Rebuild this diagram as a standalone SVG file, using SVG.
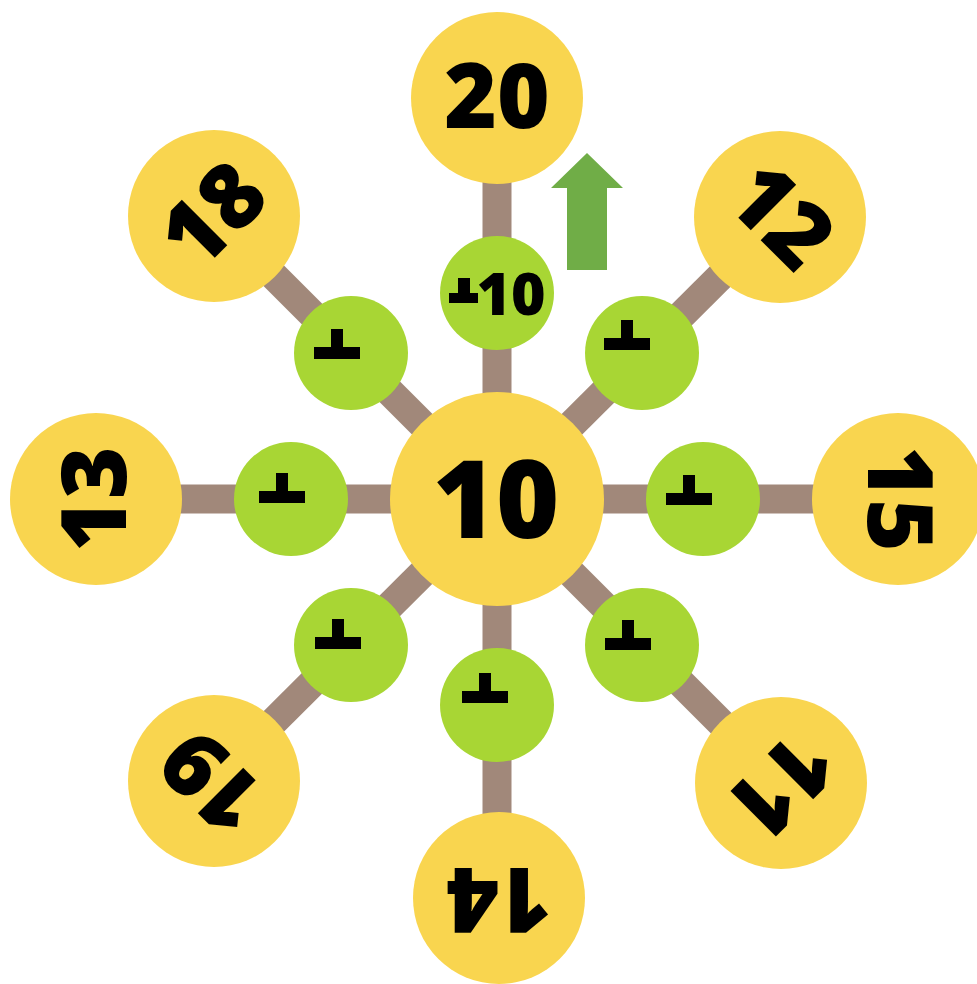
<svg xmlns="http://www.w3.org/2000/svg" xmlns:xlink="http://www.w3.org/1999/xlink" width="977" height="984" viewBox="0 0 977 984">
  <style>
    .link { stroke: #a1887a; stroke-width: 29; stroke-linecap: butt; }
    .outer { fill: #f9d54f; }
    .hub { fill: #f9d54f; }
    .sub { fill: #a8d634; }
    .num { font-family: "Open Sans", "Liberation Sans", sans-serif; font-weight: 800; fill: #000; text-anchor: middle; }
    .big { font-size: 90px; }
    .mark { fill: #000; }
  </style>
  <defs>
    <g id="tee">
      <rect x="-37" y="-6" width="46" height="12"/>
      <rect x="-20" y="-24" width="12" height="19"/>
    </g>
  </defs>
  <rect width="977" height="984" fill="#ffffff"/>
  <g id="connectors">
    <line class="link" x1="497" y1="499" x2="497" y2="98"/>
    <line class="link" x1="497" y1="499" x2="497" y2="898"/>
    <line class="link" x1="497" y1="499" x2="96" y2="499"/>
    <line class="link" x1="497" y1="499" x2="898" y2="499"/>
    <line class="link" x1="497" y1="499" x2="214" y2="216"/>
    <line class="link" x1="497" y1="499" x2="780" y2="217"/>
    <line class="link" x1="497" y1="499" x2="214" y2="781"/>
    <line class="link" x1="497" y1="499" x2="781" y2="783"/>
  </g>
  <g id="arrow">
    <polygon points="587,153 623,188 607,188 607,270 567,270 567,188 551,188" fill="#70ad47"/>
  </g>
  <g id="n20">
    <circle class="outer" cx="497" cy="98" r="86"/>
    <text class="num big" x="497" y="128">20</text>
  </g>
  <g id="n18">
    <circle class="outer" cx="214" cy="216" r="86"/>
    <text class="num big" x="214" y="246" transform="rotate(-45 214 216)">18</text>
  </g>
  <g id="n12">
    <circle class="outer" cx="780" cy="217" r="86"/>
    <text class="num big" x="780" y="247" transform="rotate(45 780 217)">12</text>
  </g>
  <g id="n13">
    <circle class="outer" cx="96" cy="499" r="86"/>
    <text class="num big" x="96" y="529" transform="rotate(-90 96 499)">13</text>
  </g>
  <g id="n15">
    <circle class="outer" cx="898" cy="499" r="86"/>
    <text class="num big" x="898" y="529" transform="rotate(90 898 499)">15</text>
  </g>
  <g id="n19">
    <circle class="outer" cx="214" cy="781" r="86"/>
    <text class="num big" x="214" y="811" transform="rotate(-135 214 781)">19</text>
  </g>
  <g id="n11">
    <circle class="outer" cx="781" cy="783" r="86"/>
    <text class="num big" x="781" y="813" transform="rotate(135 781 783)">11</text>
  </g>
  <g id="n14">
    <circle class="outer" cx="499" cy="898" r="86"/>
    <text class="num big" x="499" y="928" transform="rotate(180 499 898)">14</text>
  </g>
  <g id="hub">
    <circle class="hub" cx="497" cy="499" r="107"/>
    <text class="num" x="496" y="538" font-size="108">10</text>
  </g>
  <g id="g-top">
    <circle class="sub" cx="497" cy="293" r="57"/>
    <rect class="mark" x="449" y="293" width="29" height="10"/>
    <rect class="mark" x="458" y="278" width="12" height="16"/>
    <text class="num" x="511" y="315" font-size="59">10</text>
  </g>
  <g id="g-topleft">
    <circle class="sub" cx="351" cy="353" r="57"/>
    <use xlink:href="#tee" class="mark" x="351" y="353"/>
  </g>
  <g id="g-topright">
    <circle class="sub" cx="642" cy="353" r="57"/>
    <use xlink:href="#tee" class="mark" x="641" y="344"/>
  </g>
  <g id="g-left">
    <circle class="sub" cx="291" cy="499" r="57"/>
    <use xlink:href="#tee" class="mark" x="296" y="497"/>
  </g>
  <g id="g-right">
    <circle class="sub" cx="703" cy="499" r="57"/>
    <use xlink:href="#tee" class="mark" x="703" y="499"/>
  </g>
  <g id="g-bottomleft">
    <circle class="sub" cx="351" cy="645" r="57"/>
    <use xlink:href="#tee" class="mark" x="352" y="643"/>
  </g>
  <g id="g-bottom">
    <circle class="sub" cx="497" cy="705" r="57"/>
    <use xlink:href="#tee" class="mark" x="499" y="697"/>
  </g>
  <g id="g-bottomright">
    <circle class="sub" cx="642" cy="645" r="57"/>
    <use xlink:href="#tee" class="mark" x="642" y="644"/>
  </g>
</svg>
